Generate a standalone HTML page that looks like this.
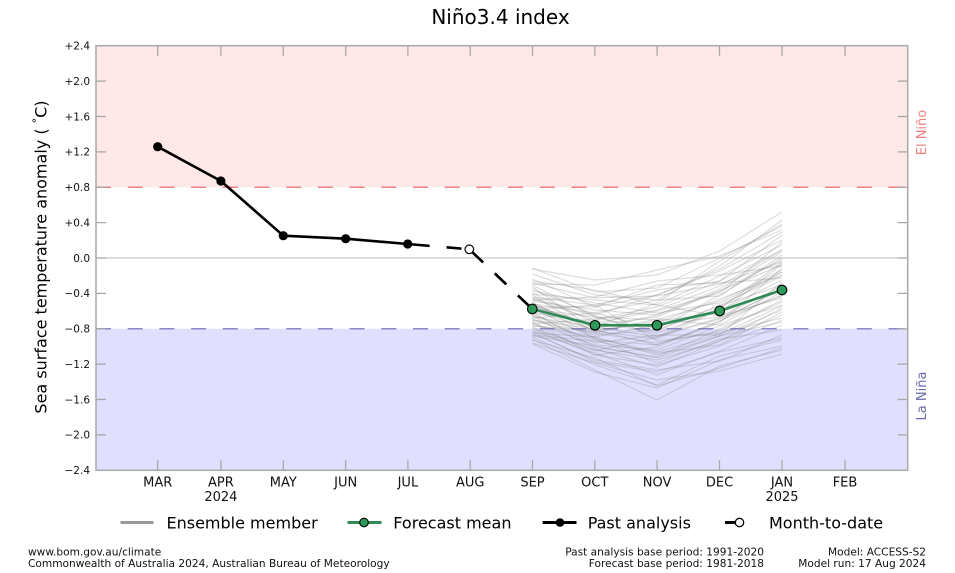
<!DOCTYPE html>
<html><head><meta charset="utf-8"><style>
html,body{margin:0;padding:0;background:#fff;}
svg{display:block;font-family:"DejaVu Sans","Liberation Sans",sans-serif;}
</style></head><body>
<svg width="955" height="573" viewBox="0 0 955 573" xmlns="http://www.w3.org/2000/svg">
<rect x="0" y="0" width="955" height="573" fill="#fff"/>
<text x="500.5" y="24" font-size="20" text-anchor="middle" fill="#000">Niño3.4 index</text>

<!-- shaded regions -->
<rect x="96" y="45.7" width="811.7" height="141.5" fill="#ffe8e8"/>
<rect x="96" y="328.8" width="811.7" height="141.5" fill="#e0e0fe"/>
<line x1="96" y1="187.2" x2="907.7" y2="187.2" stroke="#f08080" stroke-width="1.5" stroke-dasharray="15 16.7"/>
<line x1="96" y1="328.8" x2="907.7" y2="328.8" stroke="#8888cc" stroke-width="1.5" stroke-dasharray="15 16.7"/>
<line x1="96" y1="258" x2="907.7" y2="258" stroke="#bbbbbb" stroke-width="1"/>

<!-- ensemble -->
<g fill="none" stroke="#7a7a7a" stroke-opacity="0.26" stroke-width="1.2">
<polyline points="532.3,269 595,280 657,275 719.7,251 782,212"/>
<polyline points="532.3,274 595,295 657,300 719.7,266 782,220"/>
<polyline points="532.3,284 595,285 657,270 719.7,256 782,230"/>
<polyline points="532.3,289 595,315 657,295 719.7,271 782,240"/>
<polyline points="532.3,294 595,300 657,305 719.7,276 782,245"/>
<polyline points="532.3,297 595,305 657,290 719.7,281 782,235"/>
<polyline points="532.3,299 595,320 657,310 719.7,286 782,250"/>
<polyline points="532.3,301 595,310 657,315 719.7,291 782,260"/>
<polyline points="532.3,304 595,313 657,300 719.7,296 782,255"/>
<polyline points="532.3,306 595,325 657,317 719.7,291 782,265"/>
<polyline points="532.3,309 595,317 657,320 719.7,301 782,270"/>
<polyline points="532.3,311 595,330 657,323 719.7,299 782,275"/>
<polyline points="532.3,313 595,322 657,333 719.7,311 782,280"/>
<polyline points="532.3,315 595,335 657,330 719.7,306 782,285"/>
<polyline points="532.3,317 595,327 657,337 719.7,319 782,290"/>
<polyline points="532.3,319 595,340 657,345 719.7,321 782,295"/>
<polyline points="532.3,321 595,333 657,343 719.7,331 782,300"/>
<polyline points="532.3,323 595,345 657,350 719.7,326 782,305"/>
<polyline points="532.3,325 595,337 657,355 719.7,336 782,310"/>
<polyline points="532.3,327 595,350 657,360 719.7,341 782,315"/>
<polyline points="532.3,329 595,355 657,365 719.7,346 782,320"/>
<polyline points="532.3,331 595,353 657,375 719.7,351 782,325"/>
<polyline points="532.3,334 595,360 657,370 719.7,361 782,335"/>
<polyline points="532.3,337 595,365 657,385 719.7,356 782,340"/>
<polyline points="532.3,339 595,370 657,400 719.7,366 782,350"/>
<polyline points="532.3,343 595,363 657,380 719.7,371 782,354"/>
<polyline points="532.3,291 595,303 657,313 719.7,303 782,272"/>
<polyline points="532.3,303 595,331 657,339 719.7,309 782,262"/>
<polyline points="532.3,314 595,343 657,335 719.7,335 782,282"/>
<polyline points="532.3,279 595,307 657,285 719.7,283 782,278"/>
<polyline points="532.3,324 595,319 657,307 719.7,281 782,250"/>
<polyline points="532.3,287 595,330 657,345 719.7,323 782,268"/>
<polyline points="532.3,312 595,347 657,357 719.7,329 782,302"/>
<polyline points="532.3,307 595,307 657,295 719.7,269 782,232"/>
<polyline points="532.3,333 595,337 657,325 719.7,317 782,286"/>
<polyline points="532.3,281 595,290 657,305 719.7,316 782,298"/>
<polyline points="532.3,318 595,313 657,329 719.7,295 782,258"/>
<polyline points="532.3,295 595,333 657,319 719.7,325 782,292"/>
<polyline points="532.3,328 595,351 657,337 719.7,307 782,272"/>
<polyline points="532.3,308 595,339 657,363 719.7,339 782,330"/>
<polyline points="532.3,320 595,329 657,315 719.7,289 782,252"/>
<polyline points="532.3,300 595,297 657,281 719.7,275 782,266"/>
<polyline points="532.3,335 595,341 657,353 719.7,345 782,312"/>
<polyline points="532.3,285 595,317 657,331 719.7,305 782,276"/>
<polyline points="532.3,316 595,349 657,367 719.7,341 782,308"/>
<polyline points="532.3,305 595,327 657,303 719.7,261 782,224"/>
<polyline points="532.3,322 595,355 657,347 719.7,321 782,288"/>
<polyline points="532.3,293 595,323 657,311 719.7,293 782,242"/>
<polyline points="532.3,310 595,305 657,341 719.7,333 782,318"/>
<polyline points="532.3,326 595,331 657,321 719.7,313 782,264"/>
<polyline points="532.3,344 595,372 657,388 719.7,360 782,346"/>
<polyline points="532.3,340 595,358 657,386 719.7,368 782,348"/>
<polyline points="532.3,268 595,292 657,288 719.7,258 782,226"/>
<polyline points="532.3,332 595,362 657,372 719.7,352 782,338"/>
<polyline points="532.3,283 595,298 657,296 719.7,284 782,262"/>
<polyline points="532.3,298 595,316 657,336 719.7,318 782,296"/>
<polyline points="532.3,336 595,346 657,358 719.7,336 782,322"/>
<polyline points="532.3,302 595,338 657,352 719.7,334 782,306"/>
</g>

<!-- past analysis -->
<polyline points="157.7,146.7 220.9,181 283.3,235.7 345.7,238.7 407.7,244" fill="none" stroke="#000" stroke-width="2.6" stroke-linejoin="round"/>
<line x1="407.7" y1="244" x2="469.3" y2="249.3" stroke="#000" stroke-width="2.6" stroke-dasharray="22 17 15 20"/>
<line x1="469.3" y1="249.3" x2="532.3" y2="309" stroke="#000" stroke-width="2.6" stroke-dasharray="19 16 16 16 30"/>
<g fill="#000">
<circle cx="157.7" cy="146.7" r="4.6"/>
<circle cx="220.9" cy="181" r="4.6"/>
<circle cx="283.3" cy="235.7" r="4.6"/>
<circle cx="345.7" cy="238.7" r="4.6"/>
<circle cx="407.7" cy="244" r="4.6"/>
</g>
<circle cx="469.3" cy="249.3" r="4.3" fill="#fff" stroke="#000" stroke-width="1.2"/>

<!-- forecast mean -->
<polyline points="532.3,309 595,325.3 657,325.3 719.7,311 782,290" fill="none" stroke="#2e8b57" stroke-width="2.6" stroke-linejoin="round"/>
<g fill="#2e9a5a" stroke="#000" stroke-width="1.1">
<circle cx="532.3" cy="309" r="4.8"/>
<circle cx="595" cy="325.3" r="4.8"/>
<circle cx="657" cy="325.3" r="4.8"/>
<circle cx="719.7" cy="311" r="4.8"/>
<circle cx="782" cy="290" r="4.8"/>
</g>

<!-- axes frame -->
<rect x="96" y="45.7" width="811.7" height="424.6" fill="none" stroke="#a8a8a8" stroke-width="1.5"/>
<g stroke="#a8a8a8" stroke-width="1.3">
<line x1="96" y1="81.1" x2="106" y2="81.1"/><line x1="897.7" y1="81.1" x2="907.7" y2="81.1"/>
<line x1="96" y1="116.5" x2="106" y2="116.5"/><line x1="897.7" y1="116.5" x2="907.7" y2="116.5"/>
<line x1="96" y1="151.9" x2="106" y2="151.9"/><line x1="897.7" y1="151.9" x2="907.7" y2="151.9"/>
<line x1="96" y1="187.2" x2="106" y2="187.2"/><line x1="897.7" y1="187.2" x2="907.7" y2="187.2"/>
<line x1="96" y1="222.6" x2="106" y2="222.6"/><line x1="897.7" y1="222.6" x2="907.7" y2="222.6"/>
<line x1="96" y1="258" x2="106" y2="258"/><line x1="897.7" y1="258" x2="907.7" y2="258"/>
<line x1="96" y1="293.4" x2="106" y2="293.4"/><line x1="897.7" y1="293.4" x2="907.7" y2="293.4"/>
<line x1="96" y1="328.8" x2="106" y2="328.8"/><line x1="897.7" y1="328.8" x2="907.7" y2="328.8"/>
<line x1="96" y1="364.1" x2="106" y2="364.1"/><line x1="897.7" y1="364.1" x2="907.7" y2="364.1"/>
<line x1="96" y1="399.5" x2="106" y2="399.5"/><line x1="897.7" y1="399.5" x2="907.7" y2="399.5"/>
<line x1="96" y1="434.9" x2="106" y2="434.9"/><line x1="897.7" y1="434.9" x2="907.7" y2="434.9"/>
<line x1="157.7" y1="45.7" x2="157.7" y2="55.7"/><line x1="157.7" y1="460.3" x2="157.7" y2="470.3"/>
<line x1="220.9" y1="45.7" x2="220.9" y2="55.7"/><line x1="220.9" y1="460.3" x2="220.9" y2="470.3"/>
<line x1="283.3" y1="45.7" x2="283.3" y2="55.7"/><line x1="283.3" y1="460.3" x2="283.3" y2="470.3"/>
<line x1="345.7" y1="45.7" x2="345.7" y2="55.7"/><line x1="345.7" y1="460.3" x2="345.7" y2="470.3"/>
<line x1="407.9" y1="45.7" x2="407.9" y2="55.7"/><line x1="407.9" y1="460.3" x2="407.9" y2="470.3"/>
<line x1="470.2" y1="45.7" x2="470.2" y2="55.7"/><line x1="470.2" y1="460.3" x2="470.2" y2="470.3"/>
<line x1="532.5" y1="45.7" x2="532.5" y2="55.7"/><line x1="532.5" y1="460.3" x2="532.5" y2="470.3"/>
<line x1="594.8" y1="45.7" x2="594.8" y2="55.7"/><line x1="594.8" y1="460.3" x2="594.8" y2="470.3"/>
<line x1="657.1" y1="45.7" x2="657.1" y2="55.7"/><line x1="657.1" y1="460.3" x2="657.1" y2="470.3"/>
<line x1="719.5" y1="45.7" x2="719.5" y2="55.7"/><line x1="719.5" y1="460.3" x2="719.5" y2="470.3"/>
<line x1="782" y1="45.7" x2="782" y2="55.7"/><line x1="782" y1="460.3" x2="782" y2="470.3"/>
<line x1="845" y1="45.7" x2="845" y2="55.7"/><line x1="845" y1="460.3" x2="845" y2="470.3"/>
</g>

<!-- y tick labels -->
<g font-size="10.5" text-anchor="end" fill="#111">
<text x="90" y="49.5">+2.4</text>
<text x="90" y="84.9">+2.0</text>
<text x="90" y="120.3">+1.6</text>
<text x="90" y="155.7">+1.2</text>
<text x="90" y="191">+0.8</text>
<text x="90" y="226.4">+0.4</text>
<text x="90" y="261.8">0.0</text>
<text x="90" y="297.2">−0.4</text>
<text x="90" y="332.6">−0.8</text>
<text x="90" y="367.9">−1.2</text>
<text x="90" y="403.3">−1.6</text>
<text x="90" y="438.7">−2.0</text>
<text x="90" y="474.1">−2.4</text>
</g>

<!-- x tick labels -->
<g font-size="13" text-anchor="middle" fill="#111">
<text x="157.7" y="486.5">MAR</text>
<text x="220.9" y="486.5">APR</text>
<text x="220.9" y="500.8">2024</text>
<text x="283.3" y="486.5">MAY</text>
<text x="345.7" y="486.5">JUN</text>
<text x="407.9" y="486.5">JUL</text>
<text x="470.2" y="486.5">AUG</text>
<text x="532.5" y="486.5">SEP</text>
<text x="594.8" y="486.5">OCT</text>
<text x="657.1" y="486.5">NOV</text>
<text x="719.5" y="486.5">DEC</text>
<text x="782" y="486.5">JAN</text>
<text x="782" y="500.8">2025</text>
<text x="845" y="486.5">FEB</text>
</g>

<!-- y axis label -->
<text transform="translate(46.5,257) rotate(-90)" font-size="16" text-anchor="middle" fill="#000">Sea surface temperature anomaly ( <tspan font-size="11" dy="-6">°</tspan><tspan dy="6">C)</tspan></text>

<!-- side labels -->
<text transform="translate(926,132.5) rotate(-90)" font-size="13" text-anchor="middle" fill="#f08080">El Niño</text>
<text transform="translate(926,396) rotate(-90)" font-size="13" text-anchor="middle" fill="#6a6aaa">La Niña</text>

<!-- legend -->
<line x1="120.5" y1="522.5" x2="153.5" y2="522.5" stroke="#999" stroke-width="3"/>
<text x="166.5" y="528.3" font-size="16" fill="#000">Ensemble member</text>
<line x1="347.5" y1="522.5" x2="381.5" y2="522.5" stroke="#2e8b57" stroke-width="3"/>
<circle cx="364" cy="522.5" r="4.3" fill="#2e9a5a" stroke="#000" stroke-width="1.1"/>
<text x="393.3" y="528.3" font-size="16" fill="#000">Forecast mean</text>
<line x1="542.7" y1="522.5" x2="576.5" y2="522.5" stroke="#000" stroke-width="3"/>
<circle cx="560" cy="522.5" r="4.3" fill="#000"/>
<text x="587.7" y="528.3" font-size="16" fill="#000">Past analysis</text>
<line x1="725" y1="522.5" x2="736" y2="522.5" stroke="#000" stroke-width="3"/>
<circle cx="739.5" cy="522.5" r="4.2" fill="#fff" stroke="#000" stroke-width="1.3"/>
<text x="769" y="528.3" font-size="16" fill="#000">Month-to-date</text>

<!-- footer -->
<g font-size="10.6" fill="#111">
<text x="28" y="555.5">www.bom.gov.au/climate</text>
<text x="28" y="567.2">Commonwealth of Australia 2024, Australian Bureau of Meteorology</text>
<text x="764" y="555.5" text-anchor="end">Past analysis base period: 1991-2020</text>
<text x="764" y="567.2" text-anchor="end">Forecast base period: 1981-2018</text>
<text x="926" y="555.5" text-anchor="end">Model: ACCESS-S2</text>
<text x="926" y="567.2" text-anchor="end">Model run: 17 Aug 2024</text>
</g>
</svg>
</body></html>
